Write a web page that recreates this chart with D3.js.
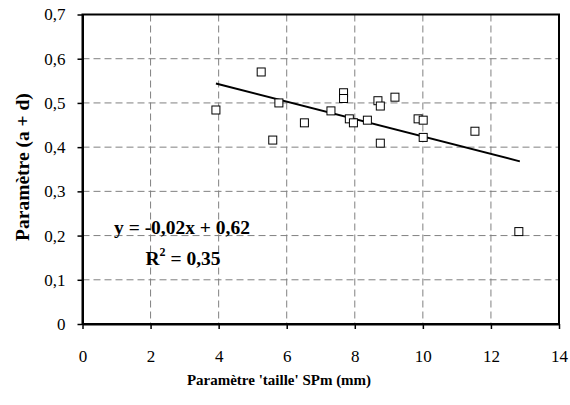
<!DOCTYPE html>
<html>
<head>
<meta charset="utf-8">
<script src="https://cdn.jsdelivr.net/npm/d3@7"></script>
<style>
  html, body { margin: 0; padding: 0; background: #fff; }
  svg { display: block; }
</style>
</head>
<body>
<svg id="chart" width="570" height="405"></svg>
<script>
// ---- data ----
const sizeSPm = [3.92, 5.25, 5.77, 5.59, 6.52, 7.30, 7.67, 7.67, 7.84, 7.96, 8.37, 8.68, 8.75, 8.75, 9.18, 9.86, 10.01, 10.01, 11.53, 12.82];
const paramAD = [0.484, 0.570, 0.500, 0.416, 0.455, 0.482, 0.523, 0.510, 0.464, 0.455, 0.461, 0.505, 0.493, 0.409, 0.513, 0.464, 0.461, 0.422, 0.436, 0.209];
const trendSlope = -0.0197;
const trendIntercept = 0.621;
const trendRangeX = [3.92, 12.85];
const xTicks = [0, 2, 4, 6, 8, 10, 12, 14];
const yTicks = [0, 0.1, 0.2, 0.3, 0.4, 0.5, 0.6, 0.7];
const xTitle = "Paramètre 'taille' SPm (mm)";
const yTitle = "Paramètre (a + d)";
const eqText = "y = -0,02x + 0,62";
const r2Value = "0,35";

// ---- layout ----
const FONT = "'Liberation Serif', 'Times New Roman', serif";
const svg = d3.select("#chart");
const L = 82.5, R = 559, T = 14.5, B = 324;
const x = d3.scaleLinear().domain([0, 14]).range([L, R]);
const y = d3.scaleLinear().domain([0, 0.7]).range([B, T]);
const fmt = d => d === 0 ? "0" : d3.format(".1f")(d).replace(".", ",");

// grid
const grid = svg.append("g");
grid.selectAll("line.h").data(yTicks.filter(v => v > 0 && v < 0.7)).enter().append("line")
  .attr("x1", L).attr("x2", R).attr("y1", d => y(d)).attr("y2", d => y(d))
  .attr("stroke", "#808080").attr("stroke-width", 1).attr("stroke-dasharray", "7,4");
grid.selectAll("line.v").data(xTicks.filter(v => v > 0 && v < 14)).enter().append("line")
  .attr("x1", d => x(d)).attr("x2", d => x(d)).attr("y1", T).attr("y2", B)
  .attr("stroke", "#808080").attr("stroke-width", 1).attr("stroke-dasharray", "7,4");

// frame
svg.append("rect").attr("x", L).attr("y", T).attr("width", R - L).attr("height", B - T)
  .attr("fill", "none").attr("stroke", "#000").attr("stroke-width", 2);

// axes
const xAxis = d3.axisBottom(x).tickValues(xTicks).tickSizeInner(5).tickSizeOuter(0).tickFormat(d => d);
const gx = svg.append("g").attr("transform", `translate(0,${B})`).call(xAxis);
gx.select(".domain").attr("stroke-width", 2);
gx.selectAll(".tick line").attr("stroke-width", 1.5);
gx.selectAll(".tick text").style("font-family", FONT).style("font-size", "17px")
  .attr("y", 38).attr("dy", 0).attr("fill", "#000");

const yAxis = d3.axisLeft(y).tickValues(yTicks).tickSizeInner(5).tickSizeOuter(0).tickFormat(fmt);
const gy = svg.append("g").attr("transform", `translate(${L},0)`).call(yAxis);
gy.select(".domain").attr("stroke-width", 2);
gy.selectAll(".tick line").attr("stroke-width", 1.5);
gy.selectAll(".tick text").style("font-family", FONT).style("font-size", "17px")
  .attr("x", -17).attr("fill", "#000");

// trendline
svg.append("line")
  .attr("x1", x(trendRangeX[0])).attr("y1", y(trendSlope * trendRangeX[0] + trendIntercept))
  .attr("x2", x(trendRangeX[1])).attr("y2", y(trendSlope * trendRangeX[1] + trendIntercept))
  .attr("stroke", "#000").attr("stroke-width", 2);

// points
const pts = sizeSPm.map((v, i) => ({ x: v, y: paramAD[i] }));
const s = 8;
svg.append("g").selectAll("rect").data(pts).enter().append("rect")
  .attr("x", d => x(d.x) - s / 2).attr("y", d => y(d.y) - s / 2)
  .attr("width", s).attr("height", s)
  .attr("fill", "#fff").attr("stroke", "#000").attr("stroke-width", 1);

// equation
svg.append("text").attr("x", 182).attr("y", 233.5).attr("text-anchor", "middle")
  .style("font-family", FONT).style("font-size", "19.5px").style("font-weight", "bold").text(eqText);
const r2 = svg.append("text").attr("x", 183).attr("y", 265).attr("text-anchor", "middle")
  .style("font-family", FONT).style("font-size", "19.5px").style("font-weight", "bold");
r2.append("tspan").text("R");
r2.append("tspan").style("font-size", "12px").attr("dy", -9).text("2");
r2.append("tspan").attr("dy", 9).text(" = " + r2Value);

// titles
svg.append("text").attr("x", 279).attr("y", 385).attr("text-anchor", "middle")
  .style("font-family", FONT).style("font-size", "15px").style("font-weight", "bold").text(xTitle);
svg.append("text").attr("transform", "translate(28.5,167) rotate(-90)").attr("text-anchor", "middle")
  .style("font-family", FONT).style("font-size", "19.5px").style("font-weight", "bold").text(yTitle);
</script>
</body>
</html>
